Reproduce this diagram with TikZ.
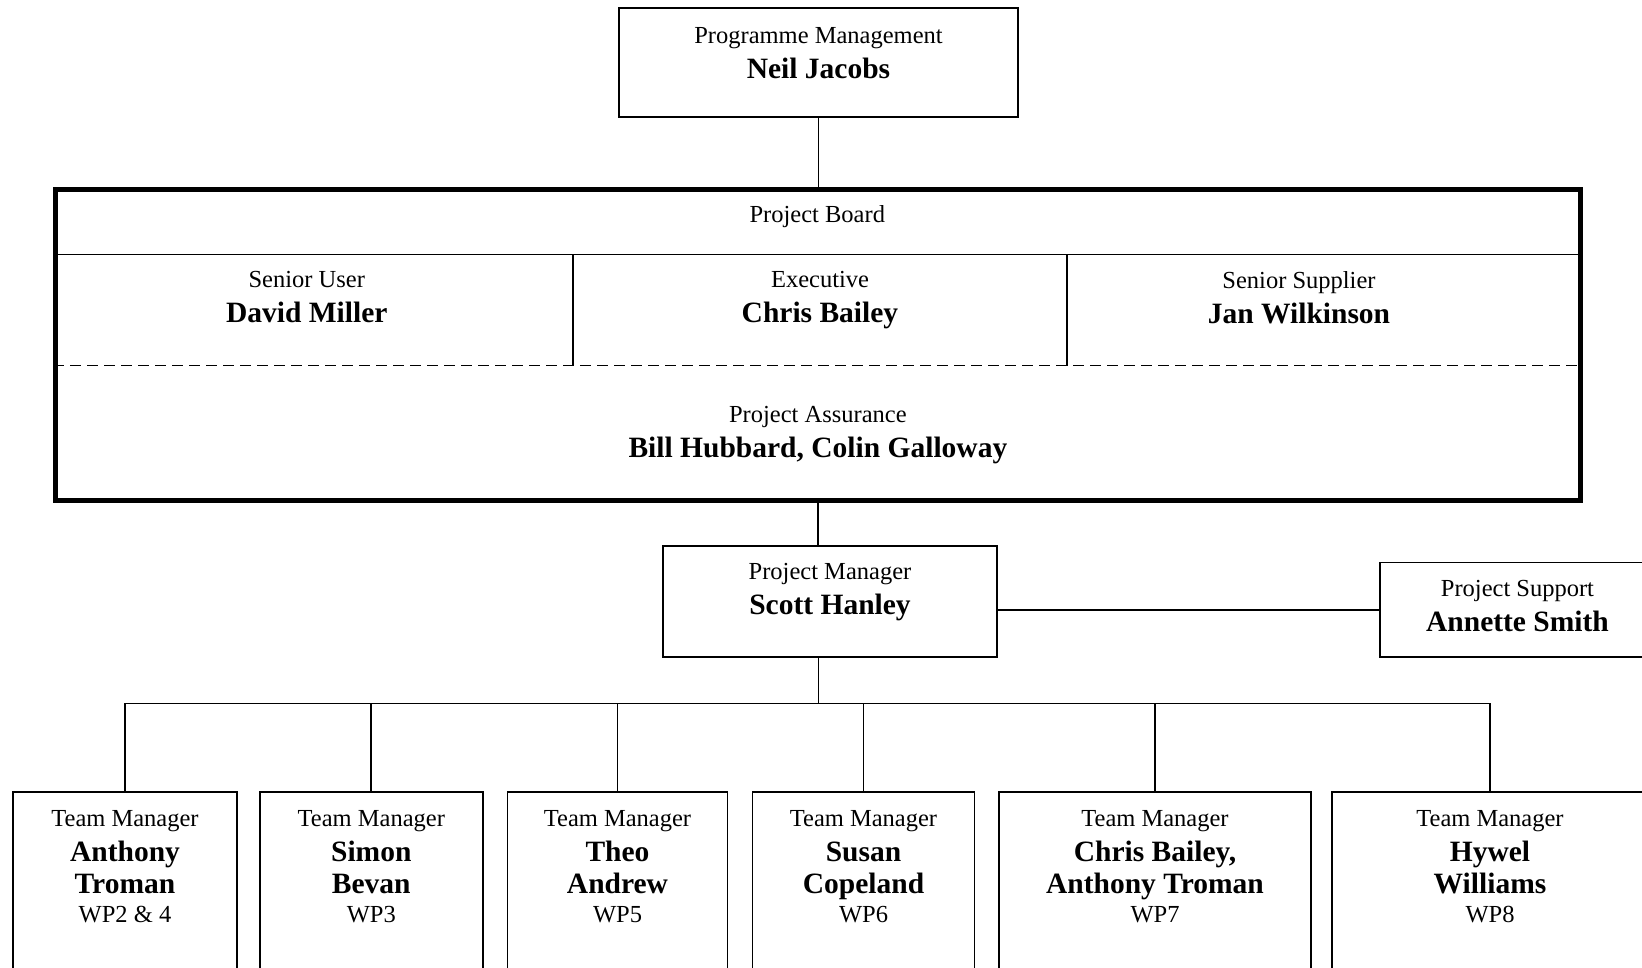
\documentclass[tikz,border=0pt]{standalone}
\usepackage{fontspec}
\setmainfont{Liberation Serif}
\usepackage{tikz}
\usetikzlibrary{positioning}

\newcommand{\rolefont}{\fontsize{24.5}{32}\selectfont}
\newcommand{\namefont}{\bfseries\fontsize{29.5}{32}\selectfont}
\newcommand{\team}[3]{Team Manager\\[3pt]{\namefont #1}\\{\namefont #2}\\[-3pt]#3}

\begin{document}
\begin{tikzpicture}[x=1pt, y=-1pt,
  box/.style={draw, line width=1.8pt, inner sep=0pt},
  lbl/.style={inner sep=0pt, align=center, font=\rolefont},
  conn/.style={line width=1.8pt}]
  \useasboundingbox (0,0) rectangle (1642,967);
  \clip (0,0) rectangle (1642,967);

  % Programa
  \node[box, minimum width=399pt, minimum height=109pt] (prog) at (818.5,62.5) {};
  \node[lbl, below=20pt of prog.north] (progtxt) {Programme Management\\[3pt]{\namefont Neil Jacobs}};

  % Comite do projeto
  \node[draw, line width=5pt, inner sep=0pt, minimum width=1524.5pt, minimum height=311pt] (board) at (817.75,344.5) {};
  \coordinate (hline) at (0,254.5);
  \coordinate (dline) at (0,365.5);
  \draw[conn] (board.west |- hline) -- (board.east |- hline);
  \draw[conn] (573,254.5) -- (573,365.5);
  \draw[conn] (1067,254.5) -- (1067,365.5);
  \draw[conn, dash pattern=on 11pt off 6pt] (board.west |- dline) -- (board.east |- dline);

  \node[lbl, anchor=north] (pbtxt) at (817.3,205) {Project Board};
  \node[lbl, anchor=north] (sutxt) at (306.8,271.5) {Senior User\\[3pt]{\namefont David Miller}};
  \node[lbl, anchor=north] (extxt) at (820,271.5) {Executive\\[3pt]{\namefont Chris Bailey}};
  \node[lbl, anchor=north] (sstxt) at (1299,271.5) {Senior Supplier\\[3pt]{\namefont Jan Wilkinson}};
  \node[lbl, anchor=north] (patxt) at (817.9,406.5) {Project Assurance\\[3pt]{\namefont Bill Hubbard, Colin Galloway}};

  % Gerente e suporte
  \node[box, minimum width=333.5pt, minimum height=110.7pt] (pm) at (830,601.4) {};
  \node[lbl, below=18pt of pm.north] (pmtxt) {Project Manager\\[3pt]{\namefont Scott Hanley}};
  \node[box, minimum width=275pt, minimum height=94.2pt] (ps) at (1517.5,609.6) {};
  \node[lbl, below=18.5pt of ps.north] (pstxt) {Project Support\\[3pt]{\namefont Annette Smith}};

  % Ligacoes
  \draw[conn] (prog.south) -- (prog.south |- board.north);
  \draw[conn] (board.south) -- (board.south |- pm.north);
  \draw[conn] (ps.west) -- (ps.west -| pm.east);

  % Equipes
  \node[box, minimum width=224pt, minimum height=210pt] (tm1) at (125,896.7) {};
  \node[box, minimum width=223pt, minimum height=210pt] (tm2) at (371.3,896.7) {};
  \node[box, minimum width=220pt, minimum height=210pt] (tm3) at (617.5,896.7) {};
  \node[box, minimum width=222pt, minimum height=210pt] (tm4) at (863.5,896.7) {};
  \node[box, minimum width=312pt, minimum height=210pt] (tm5) at (1155,896.7) {};
  \node[box, minimum width=316pt, minimum height=210pt] (tm6) at (1490,896.7) {};

  \node[lbl, below=19.7pt of tm1.north] (tm1txt) {\team{Anthony}{Troman}{WP2 \& 4}};
  \node[lbl, below=19.7pt of tm2.north] (tm2txt) {\team{Simon}{Bevan}{WP3}};
  \node[lbl, below=19.7pt of tm3.north] (tm3txt) {\team{Theo}{Andrew}{WP5}};
  \node[lbl, below=19.7pt of tm4.north] (tm4txt) {\team{Susan}{Copeland}{WP6}};
  \node[lbl, below=19.7pt of tm5.north] (tm5txt) {\team{Chris Bailey,}{Anthony Troman}{WP7}};
  \node[lbl, below=19.7pt of tm6.north] (tm6txt) {\team{Hywel}{Williams}{WP8}};

  \coordinate (bus) at (818.5,703.5);
  \draw[conn] (pm.south -| bus) -- (bus);
  \draw[conn] (tm1.north) |- (bus) -| (tm6.north);
  \draw[conn] (tm2.north) -- (tm2.north |- bus);
  \draw[conn] (tm3.north) -- (tm3.north |- bus);
  \draw[conn] (tm4.north) -- (tm4.north |- bus);
  \draw[conn] (tm5.north) -- (tm5.north |- bus);
\end{tikzpicture}
\end{document}
